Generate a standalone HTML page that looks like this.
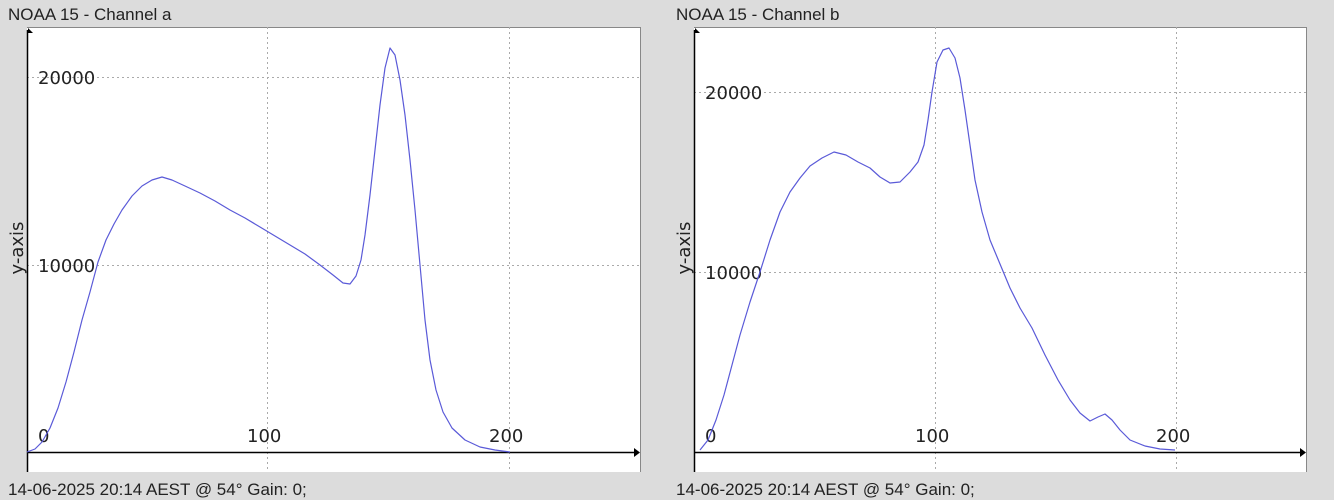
<!DOCTYPE html>
<html><head><meta charset="utf-8"><style>
body{margin:0;width:1334px;height:500px;background:#dcdcdc;overflow:hidden}
</style></head><body>
<svg width="1334" height="500" xmlns="http://www.w3.org/2000/svg" style="position:absolute;left:0;top:0">
<g font-family="Liberation Sans, sans-serif" font-size="17" fill="#222">
<text x="8" y="20">NOAA 15 - Channel a</text>
<text x="676" y="20">NOAA 15 - Channel b</text>
<text x="8" y="495">14-06-2025 20:14 AEST @ 54° Gain: 0;</text>
<text x="676" y="495">14-06-2025 20:14 AEST @ 54° Gain: 0;</text>
</g>
<rect x="27" y="27" width="613" height="445" fill="#fff"/>
<line x1="27" y1="27.5" x2="640" y2="27.5" stroke="#888"/>
<line x1="640.5" y1="27" x2="640.5" y2="472" stroke="#888"/>
<g stroke="#aaa" stroke-dasharray="2,3" stroke-width="1">
<line x1="267.5" y1="27" x2="267.5" y2="472"/><line x1="509.5" y1="27" x2="509.5" y2="472"/>
<line x1="27" y1="77.5" x2="640" y2="77.5"/><line x1="27" y1="265.5" x2="640" y2="265.5"/>
</g>
<rect x="694" y="27" width="612" height="445" fill="#fff"/>
<line x1="694" y1="27.5" x2="1306" y2="27.5" stroke="#888"/>
<line x1="1306.5" y1="27" x2="1306.5" y2="472" stroke="#888"/>
<g stroke="#aaa" stroke-dasharray="2,3" stroke-width="1">
<line x1="935.5" y1="27" x2="935.5" y2="472"/><line x1="1176.5" y1="27" x2="1176.5" y2="472"/>
<line x1="694" y1="92.5" x2="1306" y2="92.5"/><line x1="694" y1="272.5" x2="1306" y2="272.5"/>
</g>
<g stroke="#000" stroke-width="1.5" fill="none">
<line x1="27.5" y1="30" x2="27.5" y2="472"/><line x1="27" y1="452.5" x2="636" y2="452.5"/>
<line x1="694.5" y1="30" x2="694.5" y2="472"/><line x1="694" y1="452.5" x2="1302" y2="452.5"/>
</g>
<g fill="#000">
<polygon points="28,28 33,33 28,33"/><polygon points="640,452.5 634,448 634,457"/>
<polygon points="695,28 700,33 695,33"/><polygon points="1306,452.5 1300,448 1300,457"/>
</g>
<g font-family="DejaVu Sans, sans-serif" font-size="18" fill="#222">
<text x="38" y="84">20000</text><text x="38" y="272">10000</text>
<text x="38" y="442">0</text><text x="247" y="442">100</text><text x="489" y="442">200</text>
<text x="705" y="99">20000</text><text x="705" y="279">10000</text>
<text x="705" y="442">0</text><text x="915" y="442">100</text><text x="1156" y="442">200</text>
<text transform="translate(23,248) rotate(-90)" text-anchor="middle">y-axis</text>
<text transform="translate(690,248) rotate(-90)" text-anchor="middle">y-axis</text>
</g>
<g fill="none" stroke="#5a5ad8" stroke-width="1.2" stroke-linejoin="round">
<polyline points="27,452 35,449 42,442 50,428 58,408 66,382 74,352 82,320 90,292 98,262 106,240 114,224 122,210 132,196 142,186 152,180 162,177 172,180 185,186 200,193 215,201 230,210 245,218 260,227 275,236 290,245 305,254 320,265 333,275 343,283 350,284 356,276 361,260 365,235 370,195 375,150 380,105 385,68 390,48 395,55 400,80 405,115 410,160 415,210 420,265 425,320 430,360 436,390 443,412 452,428 465,440 480,447 495,450 510,452"/>
<polyline points="700,450 708,440 716,420 724,395 732,365 740,335 750,302 760,272 770,240 780,212 790,192 800,178 810,166 822,158 834,152 846,155 858,162 870,168 880,177 890,183 900,182 910,172 918,162 924,145 928,120 932,92 937,62 943,50 949,48 955,58 960,78 965,110 970,145 975,180 982,212 990,240 1000,264 1010,288 1020,308 1032,328 1045,355 1058,380 1070,400 1080,413 1090,421 1098,417 1105,414 1112,420 1120,430 1130,440 1145,446 1160,449 1175,450"/>
</g>
</svg>
</body></html>
